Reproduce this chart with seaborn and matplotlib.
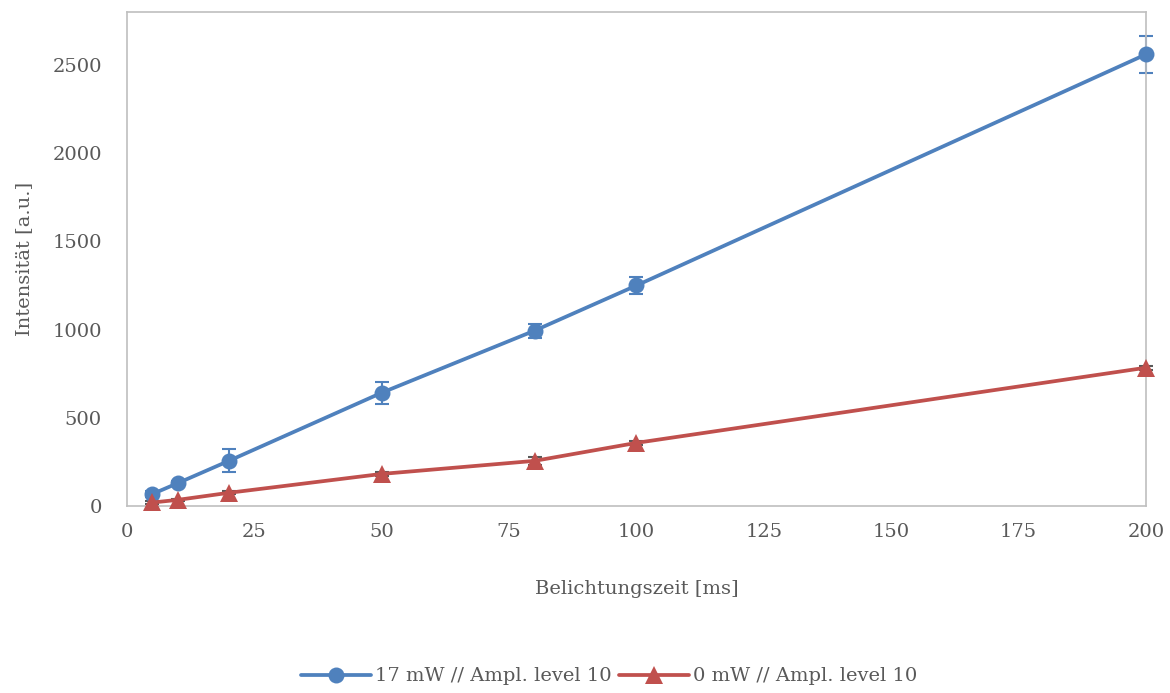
import matplotlib
matplotlib.use("Agg")
import matplotlib.pyplot as plt
import seaborn as sns
import pandas as pd

# Exposure times [ms]
belichtungszeit = [5, 10, 20, 50, 80, 100, 200]

# 17 mW series: mean intensity and standard deviation
int_17mw = [68, 130, 256, 642, 994, 1250, 2560]
err_17mw = [15, 12, 65, 63, 40, 48, 105]

# 0 mW series
int_0mw = [20, 35, 75, 182, 256, 358, 784]
err_0mw = [6, 6, 8, 10, 22, 10, 12]

label_17 = "17 mW // Ampl. level 10"
label_0 = "0 mW // Ampl. level 10"

x_ticks = [0, 25, 50, 75, 100, 125, 150, 175, 200]
y_ticks = [0, 500, 1000, 1500, 2000, 2500]

blue = "#4F81BD"
red = "#C0504D"
text_grey = "#595959"
fs = 14

sns.set_theme(style="white")
plt.rcParams["font.family"] = ["DejaVu Serif"]

df = pd.concat([
    pd.DataFrame({"t": belichtungszeit, "I": int_17mw, "serie": label_17}),
    pd.DataFrame({"t": belichtungszeit, "I": int_0mw, "serie": label_0}),
])

fig = plt.figure(figsize=(11.7, 6.93), dpi=100)
ax = fig.add_axes([0.1085, 0.2698, 0.871, 0.7129])

# error bars first so that the lines and markers sit on top
eb1 = ax.errorbar(belichtungszeit, int_17mw, yerr=err_17mw, fmt="none",
                  ecolor=blue, elinewidth=1.5, capsize=5, capthick=1.5, zorder=2)
eb2 = ax.errorbar(belichtungszeit, int_0mw, yerr=err_0mw, fmt="none",
                  ecolor="#595959", elinewidth=1.2, capsize=5, capthick=1.5, zorder=2)
for eb in (eb1, eb2):
    for art in list(eb.lines[1]) + list(eb.lines[2]):
        art.set_clip_on(False)

sns.lineplot(data=df, x="t", y="I", hue="serie", style="serie",
             palette={label_17: blue, label_0: red},
             markers={label_17: "o", label_0: "^"},
             dashes={label_17: "", label_0: ""},
             linewidth=2.7, markersize=11.5, markeredgewidth=0,
             ax=ax, zorder=3)
for ln in ax.lines:
    ln.set_clip_on(False)
    if ln.get_marker() == "^":
        ln.set_markersize(12.5)

ax.set_xlim(0, 200)
ax.set_ylim(0, 2800)
ax.set_xticks(x_ticks)
ax.set_yticks(y_ticks)
ax.tick_params(axis="both", length=0, labelsize=fs, colors=text_grey)
ax.tick_params(axis="y", pad=18)
ax.tick_params(axis="x", pad=12)
for s in ax.spines.values():
    s.set_color("#BFBFBF")
    s.set_linewidth(1.2)

ax.set_xlabel("Belichtungszeit [ms]", fontsize=fs, color=text_grey, labelpad=28)
ax.set_ylabel("Intensität [a.u.]", fontsize=fs, color=text_grey, labelpad=14)

handles, labels = ax.get_legend_handles_labels()
for h in handles:
    if h.get_marker() == "^":
        h.set_markersize(12.5)
ax.legend(handles, labels, loc="center", bbox_to_anchor=(0.473, -0.345),
          ncol=2, frameon=False, fontsize=fs, labelcolor=text_grey,
          handlelength=3.6, handletextpad=0.2, columnspacing=0.4)

fig.savefig("out.png", dpi=100)
